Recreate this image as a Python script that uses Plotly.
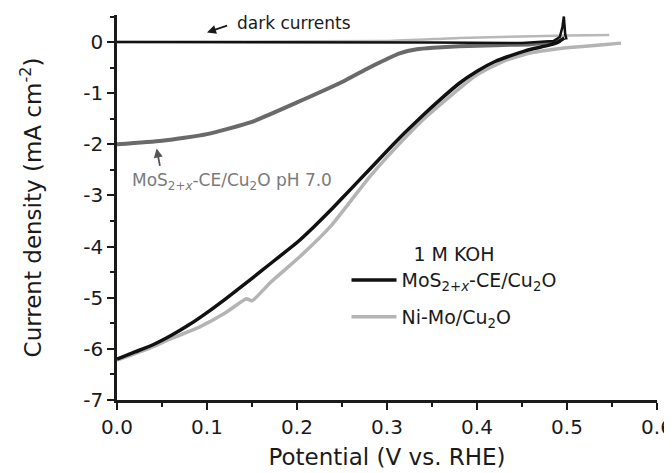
import plotly.graph_objects as go

# MoS2+x-CE/Cu2O, 1 M KOH (black)
mos_koh_x = [0.0, 0.02, 0.04, 0.06, 0.08, 0.10, 0.12, 0.14, 0.16, 0.18, 0.20, 0.22, 0.24, 0.26, 0.28, 0.30, 0.32, 0.34, 0.36, 0.38, 0.40, 0.42, 0.44, 0.46, 0.48, 0.49, 0.497]
mos_koh_y = [-6.2, -6.06, -5.92, -5.74, -5.53, -5.29, -5.03, -4.76, -4.48, -4.2, -3.92, -3.59, -3.24, -2.87, -2.5, -2.13, -1.77, -1.43, -1.11, -0.81, -0.57, -0.38, -0.25, -0.14, -0.06, 0.0, 0.08]

# Ni-Mo/Cu2O, 1 M KOH (light gray)
nimo_x = [0.0, 0.037, 0.06, 0.092, 0.12, 0.138, 0.144, 0.15, 0.17, 0.203, 0.237, 0.26, 0.28, 0.30, 0.34, 0.37, 0.40, 0.43, 0.46, 0.49, 0.514, 0.54, 0.56]
nimo_y = [-6.22, -5.98, -5.8, -5.57, -5.3, -5.08, -5.02, -5.06, -4.71, -4.2, -3.61, -3.1, -2.65, -2.25, -1.52, -1.06, -0.64, -0.37, -0.21, -0.13, -0.09, -0.05, -0.02]

# MoS2+x-CE/Cu2O, pH 7.0 (dark gray)
ph7_x = [0.0, 0.05, 0.10, 0.15, 0.20, 0.25, 0.28, 0.30, 0.314, 0.333, 0.351, 0.38, 0.42, 0.46, 0.493]
ph7_y = [-2.0, -1.93, -1.8, -1.56, -1.18, -0.78, -0.5, -0.33, -0.22, -0.14, -0.11, -0.08, -0.06, -0.04, 0.02]

# dark currents
dark_gray_x = [0.0, 0.30, 0.38, 0.45, 0.50, 0.547]
dark_gray_y = [0.0, 0.02, 0.08, 0.11, 0.13, 0.14]
dark_black_x = [0.0, 0.20, 0.35, 0.45, 0.485, 0.492, 0.495, 0.4965, 0.498, 0.4995]
dark_black_y = [0.0, 0.0, -0.01, -0.02, 0.02, 0.1, 0.3, 0.5, 0.15, 0.05]

x_ticks = [0.0, 0.1, 0.2, 0.3, 0.4, 0.5, 0.6]
x_tick_labels = ["0.0", "0.1", "0.2", "0.3", "0.4", "0.5", "0.6"]
y_ticks = [0, -1, -2, -3, -4, -5, -6, -7]
y_tick_labels = ["0", "-1", "-2", "-3", "-4", "-5", "-6", "-7"]

FONT = "DejaVu Sans, Liberation Sans, Arial, sans-serif"
INK = "#1a1a1a"

fig = go.Figure()

spl = dict(shape="spline", smoothing=0.5)
fig.add_trace(go.Scatter(x=dark_gray_x, y=dark_gray_y, mode="lines",
                         line=dict(color="#b8b8b8", width=2.5, **spl), showlegend=False))
fig.add_trace(go.Scatter(x=ph7_x, y=ph7_y, mode="lines",
                         line=dict(color="#6a6a6a", width=4, **spl), showlegend=False))
fig.add_trace(go.Scatter(x=nimo_x, y=nimo_y, mode="lines", name="Ni-Mo/Cu<sub>2</sub>O",
                         line=dict(color="#b4b4b4", width=3.5, **spl), legendgroup="b", legendrank=2))
fig.add_trace(go.Scatter(x=mos_koh_x, y=mos_koh_y, mode="lines",
                         name="MoS<sub>2+<i>x</i></sub>-CE/Cu<sub>2</sub>O",
                         line=dict(color="#111111", width=3.5, **spl), legendgroup="a", legendrank=1))
fig.add_trace(go.Scatter(x=dark_black_x, y=dark_black_y, mode="lines",
                         line=dict(color="#111111", width=2.5), showlegend=False))

# the page body adds an 8 px offset, so margins compensate for it
fig.update_layout(
    width=672, height=473,
    margin=dict(l=109, r=23, t=7, b=81),
    paper_bgcolor="white", plot_bgcolor="white",
    font=dict(family=FONT, size=20, color=INK),
    legend=dict(
        x=0.425, y=0.425, xanchor="left", yanchor="top",
        bgcolor="rgba(0,0,0,0)",
        font=dict(size=19, color=INK),
        title=dict(text="1 M KOH", side="top center", font=dict(size=19)),
        tracegroupgap=9,
        traceorder="grouped",
        itemwidth=45,
    ),
    xaxis=dict(
        range=[0, 0.6], tickvals=x_ticks, ticktext=x_tick_labels,
        showline=True, linecolor=INK, linewidth=2.5, mirror=False,
        ticks="outside", ticklen=7, tickwidth=2, tickcolor=INK,
        minor=dict(dtick=0.05, ticks="outside", ticklen=4, tickwidth=2, tickcolor=INK),
        showgrid=False, zeroline=False, automargin=False,
        title=dict(text="Potential (V vs. RHE)", font=dict(size=23), standoff=12),
        tickfont=dict(size=20),
    ),
    yaxis=dict(
        range=[-7, 0.53], tickvals=y_ticks, ticktext=y_tick_labels,
        showline=True, linecolor=INK, linewidth=2.5, mirror=False,
        ticks="outside", ticklen=7, tickwidth=2, tickcolor=INK,
        minor=dict(dtick=0.5, ticks="outside", ticklen=4, tickwidth=2, tickcolor=INK),
        showgrid=False, zeroline=False, automargin=False,
        title=dict(text="Current density (mA cm<sup>-2</sup>)", font=dict(size=23), standoff=36),
        tickfont=dict(size=20),
    ),
)

# "dark currents" label and arrow
fig.add_annotation(x=0.131, y=0.37, xref="x", yref="y", text="dark currents",
                   showarrow=False, xanchor="left", yanchor="middle",
                   font=dict(size=17, color=INK))
fig.add_annotation(x=0.1, y=0.19, xref="x", yref="y", ax=0.124, ay=0.33,
                   axref="x", ayref="y", text="", showarrow=True,
                   arrowhead=2, arrowsize=1, arrowwidth=1.8, arrowcolor=INK)

# pH 7.0 label and arrow
fig.add_annotation(x=0.014, y=-2.73, xref="x", yref="y",
                   text="MoS<sub>2+<i>x</i></sub>-CE/Cu<sub>2</sub>O pH 7.0",
                   showarrow=False, xanchor="left", yanchor="middle",
                   font=dict(size=17, color="#7a7a7a"))
fig.add_annotation(x=0.044, y=-2.08, xref="x", yref="y", ax=0.048, ay=-2.45,
                   axref="x", ayref="y", text="", showarrow=True,
                   arrowhead=2, arrowsize=1, arrowwidth=1.8, arrowcolor="#555555")

fig.write_html("out.html")
